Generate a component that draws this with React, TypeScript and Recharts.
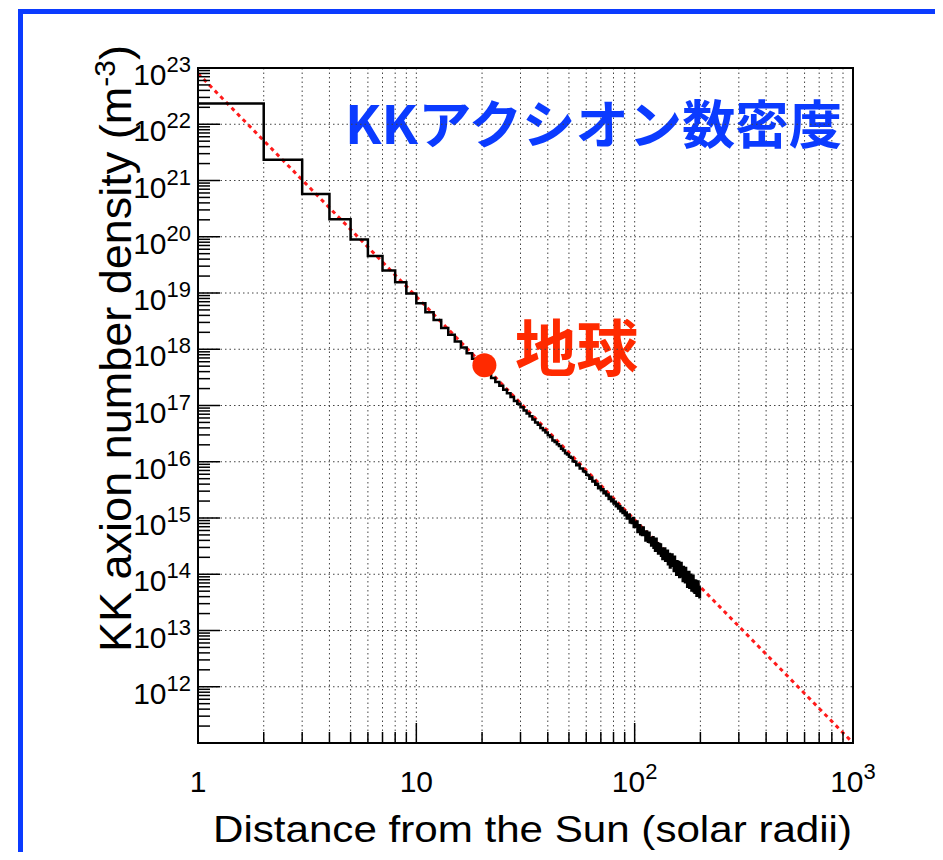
import { LineChart, Line, XAxis, YAxis, CartesianGrid, ReferenceLine, ReferenceDot, ReferenceArea } from "recharts";

const SANS = "'Liberation Sans', Arial, Helvetica, sans-serif";
const JP = "'Noto Sans CJK JP', sans-serif";
const BLUE = "#0b3bff";
const RED = "#ff2a00";

// log10 of the KK axion number density per 1 solar-radius bin, bins starting at r = 1, 2, 3, ...
const densityLogNear = [
  22.37, 21.37, 20.76, 20.31, 19.95, 19.66, 19.4, 19.19, 18.99, 18.82,
  18.66, 18.52, 18.38, 18.26, 18.14, 18.03, 17.93, 17.83, 17.74, 17.66,
  17.57, 17.49, 17.42, 17.35, 17.28, 17.22, 17.15, 17.08, 17.03, 16.97,
  16.91, 16.86, 16.81, 16.75, 16.7, 16.66, 16.6, 16.56, 16.52, 16.47,
  16.44, 16.38, 16.35, 16.31, 16.28, 16.23, 16.2, 16.15, 16.13, 16.09,
];
const densityLogMid = [
  16.07, 16.01, 16.0, 15.94, 15.95, 15.88, 15.88, 15.83, 15.82, 15.77,
  15.76, 15.7, 15.72, 15.65, 15.66, 15.59, 15.61, 15.53, 15.56, 15.5,
  15.51, 15.44, 15.47, 15.4, 15.42, 15.34, 15.38, 15.3, 15.33, 15.26,
  15.29, 15.21, 15.25, 15.17, 15.21, 15.12, 15.18, 15.09, 15.13, 15.05,
  15.1, 14.99, 15.04, 15.06, 14.92, 14.98, 14.91, 15.0, 14.84, 14.92,
];
const densityLogFar = [
  14.85, 14.94, 14.75, 14.86, 14.87, 14.71, 14.79, 14.7, 14.83, 14.7,
  14.76, 14.6, 14.76, 14.68, 14.58, 14.74, 14.57, 14.64, 14.51, 14.64,
  14.66, 14.47, 14.56, 14.42, 14.63, 14.46, 14.55, 14.37, 14.54, 14.42,
  14.53, 14.33, 14.45, 14.27, 14.46, 14.34, 14.46, 14.24, 14.35, 14.24,
  14.42, 14.18, 14.34, 14.36, 14.12, 14.28, 14.15, 14.35, 14.15, 14.21,
];
const densityLogEdge = [
  14.06, 14.31, 14.11, 14.23, 13.99, 14.23, 14.05, 14.14, 14.22, 13.95,
  14.16, 13.96, 14.2, 13.98, 14.07, 13.88, 14.13, 13.91, 14.06, 13.86,
  14.11, 13.88, 14.0, 13.78, 14.04, 13.88, 14.04, 13.76, 13.95, 13.78,
  13.99, 13.71, 13.94, 13.79, 13.97, 13.7, 13.84, 13.67, 13.89, 13.7,
  13.88, 13.62, 13.81, 13.64, 13.87, 13.64, 13.76, 13.59, 13.78,
];
const FIRST_BIN = 1;
const LAST_EDGE = 200;

// red dashed power-law reference line end points
const fitR = [1, 1000];
const fitN = [8e22, 1.0e11];

// Earth marker
const EARTH = { r: 20.5, n: 5.2e17, label: "地球" };
const TITLE = "KKアクシオン数密度";

const X_TICKS = [1, 2, 3, 4, 5, 6, 7, 8, 9, 10, 20, 30, 40, 50, 60, 70, 80, 90, 100, 200, 300, 400, 500, 600, 700, 800, 900, 1000];
const Y_DECADES = [1e11, 1e12, 1e13, 1e14, 1e15, 1e16, 1e17, 1e18, 1e19, 1e20, 1e21, 1e22, 1e23];
const MINOR_STEPS = [2, 3, 4, 5, 6, 7, 8, 9];
const Y_GRID = [1e12, 1e13, 1e14, 1e15, 1e16, 1e17, 1e18, 1e19, 1e20, 1e21, 1e22];

const allLogs = [...densityLogNear, ...densityLogMid, ...densityLogFar, ...densityLogEdge];
const histData = allLogs.map((lg, i) => ({ r: FIRST_BIN + i, n: Math.pow(10, lg) }));
histData.push({ r: LAST_EDGE, n: histData[histData.length - 1].n });
const fitData = fitR.map((r, i) => ({ r, n: fitN[i] }));

const yTicks: number[] = [];
Y_DECADES.forEach((d, i) => {
  yTicks.push(d);
  if (i < Y_DECADES.length - 1) MINOR_STEPS.forEach((m) => yTicks.push(m * d));
});

const isMajor = (v: number) => {
  const e = Math.round(Math.log10(v));
  return { e, major: Math.abs(v - Math.pow(10, e)) < 1e-6 * v };
};

const XTick = ({ x, y, payload }: any) => {
  const { e, major } = isMajor(payload.value);
  return (
    <g>
      <line x1={x} x2={x} y1={y} y2={y - (major ? 20 : 11)} stroke="#000" strokeWidth={1.5} />
      {major && (
        <text x={x} y={y + 49} textAnchor="middle" fontFamily={SANS} fontSize={30} fill="#000">
          {e < 2 ? (
            String(Math.pow(10, e))
          ) : (
            <>
              10<tspan dy={-13} fontSize={22}>{e}</tspan>
            </>
          )}
        </text>
      )}
    </g>
  );
};

const YTick = ({ x, y, payload }: any) => {
  const { e, major } = isMajor(payload.value);
  return (
    <g>
      <line x1={x} x2={x + (major ? 22 : 12)} y1={y} y2={y} stroke="#000" strokeWidth={1.5} />
      {major && e > 11 && (
        <text x={x - 7} y={y + 17} textAnchor="end" fontFamily={SANS} fontSize={30} fill="#000">
          10<tspan dy={-13} fontSize={22}>{e}</tspan>
        </text>
      )}
    </g>
  );
};

export default function App() {
  return (
    <div style={{ position: "relative", width: 943, height: 860, margin: -8, overflow: "hidden", background: "#fff" }}>
      <div
        style={{
          position: "absolute",
          left: 18,
          top: 9,
          width: 923,
          height: 900,
          border: `5px solid ${BLUE}`,
          boxSizing: "border-box",
        }}
      />
      <LineChart
        width={943}
        height={860}
        margin={{ top: 68, right: 90, bottom: 57, left: 98 }}
        style={{ position: "absolute", left: 0, top: 0 }}
      >
        <CartesianGrid horizontal={false} stroke="#444" strokeDasharray="1.5 3" />
        {Y_GRID.map((v) => (
          <ReferenceLine key={v} y={v} stroke="#444" strokeDasharray="1.5 3" />
        ))}
        <XAxis
          dataKey="r"
          type="number"
          scale="log"
          domain={[1, 1000]}
          allowDataOverflow
          ticks={X_TICKS}
          interval={0}
          tickLine={false}
          tickSize={0}
          tickMargin={0}
          tick={<XTick />}
          axisLine={{ stroke: "#000", strokeWidth: 2 }}
          height={60}
        />
        <YAxis
          dataKey="n"
          type="number"
          scale="log"
          domain={[1e11, 1e23]}
          allowDataOverflow
          ticks={yTicks}
          interval={0}
          tickLine={false}
          tickSize={0}
          tickMargin={0}
          tick={<YTick />}
          axisLine={{ stroke: "#000", strokeWidth: 2 }}
          width={100}
        />
        <ReferenceArea x1={1} x2={1000} y1={1e11} y2={1e23} fill="none" stroke="#000" strokeWidth={2} />
        <Line
          data={fitData}
          dataKey="n"
          stroke="#ff1a1a"
          strokeWidth={3}
          strokeDasharray="4 4"
          dot={false}
          activeDot={false}
          isAnimationActive={false}
        />
        <Line
          data={histData}
          dataKey="n"
          type="stepAfter"
          stroke="#000"
          strokeWidth={2.5}
          dot={false}
          activeDot={false}
          isAnimationActive={false}
        />
        <ReferenceDot x={EARTH.r} y={EARTH.n} r={12} fill={RED} stroke="none" />
        <text x={515} y={372} fontFamily={JP} fontWeight={700} fontSize={62} fill={RED} textLength={123} lengthAdjust="spacingAndGlyphs">
          {EARTH.label}
        </text>
        <text x={345} y={144} fontFamily={JP} fontWeight={700} fontSize={52} fill={BLUE} textLength={497} lengthAdjust="spacingAndGlyphs">
          {TITLE}
        </text>
        <text x={213} y={842} fontFamily={SANS} fontSize={37} fill="#000" textLength={639} lengthAdjust="spacingAndGlyphs">
          Distance from the Sun (solar radii)
        </text>
        <text
          transform="translate(131, 45) rotate(-90)"
          textAnchor="end"
          fontFamily={SANS}
          fontSize={45}
          fill="#000"
        >
          KK axion number density (m<tspan dy={-16} fontSize={30}>-3</tspan>
          <tspan dy={16}>)</tspan>
        </text>
      </LineChart>
    </div>
  );
}
